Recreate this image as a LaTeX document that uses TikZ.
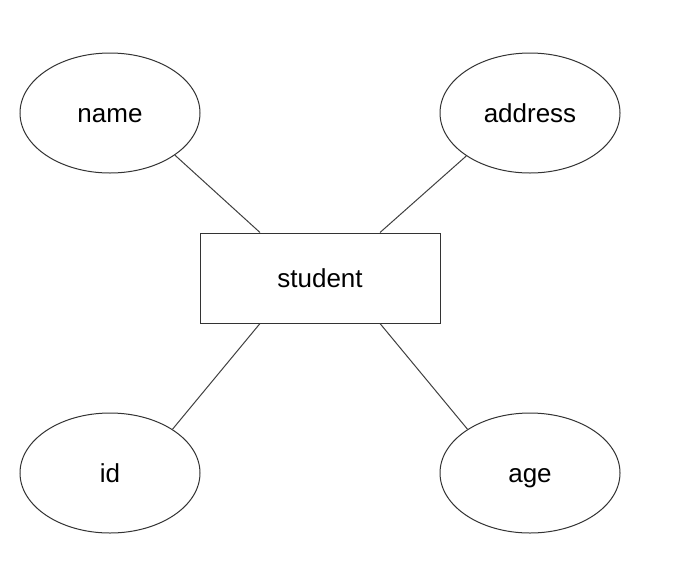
\documentclass[tikz,border=0pt]{standalone}
\usepackage{fontspec}
\setmainfont{Liberation Sans}
\usetikzlibrary{shapes.geometric}
\begin{document}
\begin{tikzpicture}[x=1pt,y=-1pt,
  lbl/.style={font=\fontsize{26}{30}\selectfont, text height=19pt, text depth=0pt},
  attr/.style={ellipse, draw=black!80, line width=1pt, minimum width=180pt, minimum height=120pt, inner sep=0pt, lbl},
  ent/.style={rectangle, draw=black!80, line width=1pt, minimum width=240pt, minimum height=90pt, inner sep=0pt, lbl},
  conn/.style={draw=black!75, line width=1pt}]
\useasboundingbox (0,0) rectangle (682,571);
\fill[white] (0,0) rectangle (682,571);
\node[ent] (s) at (320,278) {student};
\node[attr] (name) at (110,113) {name};
\node[attr] (address) at (530,113) {address};
\node[attr] (id) at (110,473) {id};
\node[attr] (age) at (530,473) {age};
\draw[conn] ([xshift=-60pt]s.north) -- (name.-33);
\draw[conn] ([xshift=60pt]s.north) -- (address.-146);
\draw[conn] ([xshift=-60pt]s.south) -- (id.35);
\draw[conn] ([xshift=60pt]s.south) -- (age.145);
\end{tikzpicture}
\end{document}
